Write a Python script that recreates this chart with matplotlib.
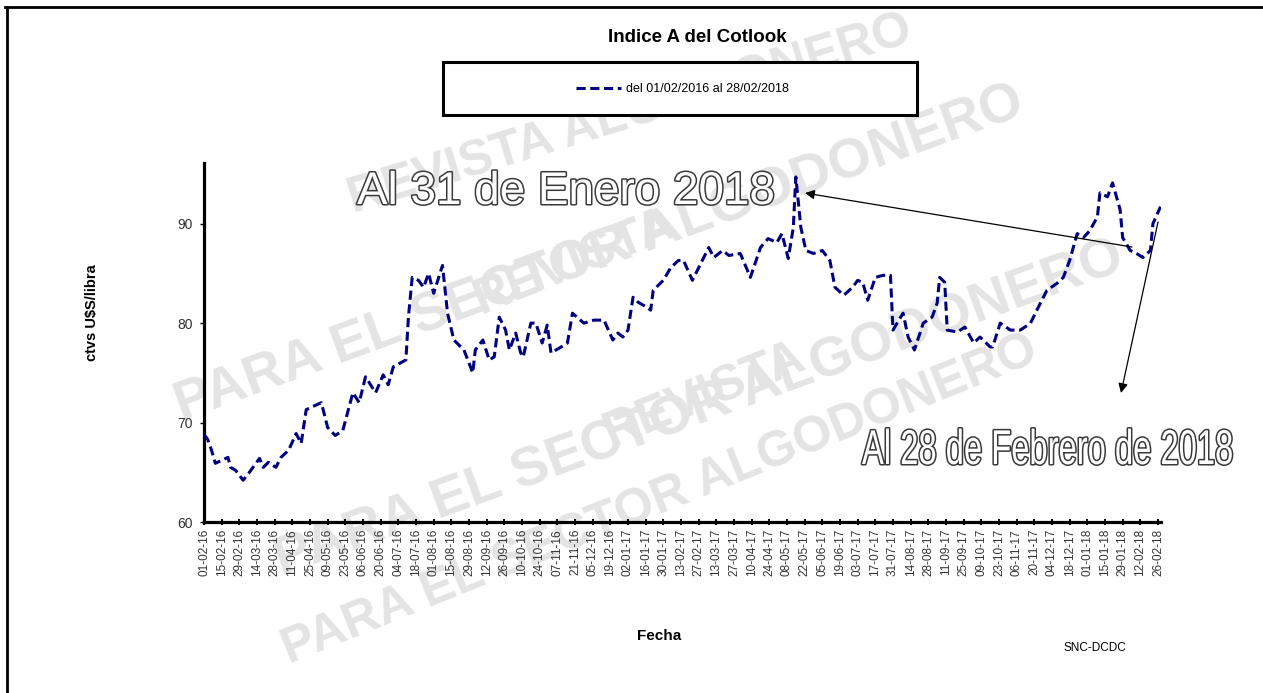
import matplotlib
matplotlib.use('Agg')
import matplotlib.pyplot as plt
import matplotlib.dates as mdates
import matplotlib.patheffects as pe
from matplotlib.patches import Rectangle
from matplotlib.lines import Line2D
from matplotlib.transforms import Affine2D
import pandas as pd

# Indice A del Cotlook (ctvs U$S/libra)
fecha = ['2016-02-01', '2016-02-04', '2016-02-07', '2016-02-10', '2016-02-20', '2016-02-22',
         '2016-02-26', '2016-03-03', '2016-03-08', '2016-03-16', '2016-03-19', '2016-03-23',
         '2016-03-29', '2016-04-02', '2016-04-08', '2016-04-14', '2016-04-18', '2016-04-22',
         '2016-04-27', '2016-05-04', '2016-05-09', '2016-05-15', '2016-05-21', '2016-05-26',
         '2016-05-29', '2016-06-03', '2016-06-08', '2016-06-16', '2016-06-22', '2016-06-26',
         '2016-06-30', '2016-07-10', '2016-07-12', '2016-07-15', '2016-07-20', '2016-07-24',
         '2016-07-28', '2016-08-01', '2016-08-08', '2016-08-12', '2016-08-17', '2016-08-25',
         '2016-09-01', '2016-09-03', '2016-09-09', '2016-09-14', '2016-09-18', '2016-09-22',
         '2016-09-27', '2016-09-30', '2016-10-05', '2016-10-09', '2016-10-11', '2016-10-17',
         '2016-10-21', '2016-10-26', '2016-10-30', '2016-11-02', '2016-11-10', '2016-11-15',
         '2016-11-19', '2016-11-28', '2016-12-06', '2016-12-14', '2016-12-21', '2016-12-25',
         '2016-12-29', '2017-01-02', '2017-01-06', '2017-01-10', '2017-01-17', '2017-01-20',
         '2017-01-22', '2017-01-30', '2017-02-05', '2017-02-11', '2017-02-15', '2017-02-22',
         '2017-03-03', '2017-03-07', '2017-03-11', '2017-03-18', '2017-03-23', '2017-04-01',
         '2017-04-09', '2017-04-17', '2017-04-23', '2017-04-30', '2017-05-04', '2017-05-09',
         '2017-05-13', '2017-05-15', '2017-05-19', '2017-05-23', '2017-05-29', '2017-06-05',
         '2017-06-11', '2017-06-15', '2017-06-22', '2017-06-29', '2017-07-03', '2017-07-07',
         '2017-07-11', '2017-07-17', '2017-07-23', '2017-07-29', '2017-07-31', '2017-08-08',
         '2017-08-12', '2017-08-17', '2017-08-24', '2017-08-31', '2017-09-04', '2017-09-06',
         '2017-09-10', '2017-09-12', '2017-09-20', '2017-09-26', '2017-10-03', '2017-10-08',
         '2017-10-16', '2017-10-18', '2017-10-24', '2017-11-01', '2017-11-09', '2017-11-17',
         '2017-11-22', '2017-11-30', '2017-12-08', '2017-12-13', '2017-12-18', '2017-12-24',
         '2017-12-29', '2018-01-03', '2018-01-09', '2018-01-11', '2018-01-17', '2018-01-21',
         '2018-01-27', '2018-01-29', '2018-02-04', '2018-02-09', '2018-02-14', '2018-02-20',
         '2018-02-22', '2018-02-28']
valores = [68.8, 68.3, 67.2, 65.9, 66.5, 65.5,
           65.2, 64.2, 65.0, 66.4, 65.5, 66.0,
           65.5, 66.5, 67.2, 68.9, 67.9, 71.3,
           71.6, 72.0, 69.5, 68.7, 69.2, 71.6,
           73.0, 72.0, 74.6, 73.0, 74.8, 73.8,
           75.6, 76.3, 80.6, 84.6, 84.3, 83.6,
           85.0, 83.0, 85.8, 81.0, 78.3, 77.3,
           75.0, 77.3, 78.3, 76.3, 76.6, 80.6,
           79.3, 77.3, 79.0, 77.0, 76.6, 80.0,
           80.0, 78.0, 79.8, 77.0, 77.6, 78.0,
           81.0, 80.0, 80.3, 80.3, 78.3, 79.0,
           78.6, 79.3, 82.6, 82.1, 81.6, 81.3,
           83.3, 84.3, 85.6, 86.3, 86.3, 84.3,
           86.6, 87.6, 86.6, 87.3, 86.8, 87.0,
           84.6, 87.6, 88.5, 88.1, 89.0, 86.5,
           89.6, 94.7, 89.6, 87.3, 87.0, 87.3,
           86.3, 83.6, 82.8, 83.6, 84.3, 84.1,
           82.3, 84.6, 84.8, 84.8, 79.3, 81.0,
           78.6, 77.3, 80.0, 80.6, 82.0, 84.6,
           84.1, 79.3, 79.1, 79.6, 78.0, 78.6,
           77.6, 77.6, 80.0, 79.3, 79.3, 80.0,
           81.3, 83.3, 84.0, 84.6, 86.3, 89.0,
           88.6, 89.3, 90.7, 93.1, 92.7, 94.1,
           91.4, 88.6, 87.3, 87.0, 86.6, 87.3,
           90.0, 91.7]

serie_label = 'del 01/02/2016 al 28/02/2018'
y_ticks = [60, 70, 80, 90]
x_ticks = pd.date_range('2016-02-01', '2018-02-26', freq='14D')

marcas_agua = [
    ('REVISTA ALGODONERO', 630, 115, 17, 36),
    ('PARA EL SECTOR ALGODONERO', 600, 255, 20, 40),
    ('REVISTA', 575, 262, 22, 36),
    ('PARA EL SECTOR ALGODONERO', 700, 410, 20, 40),
    ('REVISTA', 705, 395, 22, 36),
    ('PARA EL SECTOR ALGODONERO', 660, 500, 22, 36),
]

W, H = 1263, 693
plt.rcParams['font.family'] = ['Liberation Sans', 'DejaVu Sans']


class Alto(pe.AbstractPathEffect):
    """estira el texto en vertical sobre la linea base (aspecto de letra estrecha)"""

    def __init__(self, sy, efectos):
        super().__init__()
        self.sy = sy
        self.efectos = efectos

    def draw_path(self, renderer, gc, tpath, affine, rgbFace=None):
        y0 = affine.get_matrix()[1, 2]
        aff = affine + Affine2D().translate(0, -y0).scale(1, self.sy).translate(0, y0)
        for e in self.efectos:
            e.draw_path(renderer, gc, tpath, aff, rgbFace)


fig = plt.figure(figsize=(W / 100, H / 100), dpi=100)
fig.patch.set_facecolor('white')


def fx(px):
    return px / W


def fy(py):
    return 1 - py / H


# marco exterior
fig.add_artist(Line2D([fx(5), fx(1263)], [fy(7), fy(7)], color='black', lw=2, transform=fig.transFigure))
fig.add_artist(Line2D([fx(7), fx(7)], [fy(7), fy(693)], color='black', lw=2, transform=fig.transFigure))

# marca de agua
for txt, cx, cy, rot, fs in marcas_agua:
    fig.text(fx(cx), fy(cy), txt, ha='center', va='center', rotation=rot, fontsize=fs,
             fontweight='bold', color='#e4e4e4', zorder=-5)

# cuadro de leyenda (debajo de los ejes, encima de la marca de agua)
fig.add_artist(Rectangle((fx(443), fy(115)), (917 - 443) / W, 53 / H, transform=fig.transFigure,
                         fc='white', ec='black', lw=2.2, zorder=-1))

ax = fig.add_axes([fx(204), fy(522), (1160.5 - 204) / W, (522 - 163) / H])
ax.patch.set_alpha(0)

x = pd.to_datetime(fecha)
linea, = ax.plot(x, valores, color='#000080', lw=2.2, linestyle=(0, (3.0, 1.5)), zorder=3)

ax.set_xlim(pd.Timestamp('2016-02-01'), pd.Timestamp('2018-02-28'))
ax.set_ylim(60, 96.1)
ax.set_yticks(y_ticks)
ax.set_xticks(x_ticks)
ax.xaxis.set_major_formatter(mdates.DateFormatter('%d-%m-%y'))

for s in ['top', 'right']:
    ax.spines[s].set_visible(False)
for s in ['left', 'bottom']:
    ax.spines[s].set_linewidth(2.3)

ax.tick_params(axis='y', direction='out', length=3, width=1, labelsize=10, pad=5, labelcolor='#333333')
ax.tick_params(axis='x', direction='inout', length=4, width=1.5, labelsize=8.5, pad=3,
               labelrotation=90, labelcolor='#333333')

ax.set_ylabel('ctvs U$S/libra', fontsize=10.5, fontweight='bold')
ax.yaxis.set_label_coords(-0.11, 0.582)
ax.set_xlabel('Fecha', fontsize=11, fontweight='bold')
ax.xaxis.set_label_coords(0.476, -0.298)

fig.text(fx(697), fy(37), 'Indice A del Cotlook', ha='center', va='center',
         fontsize=13.5, fontweight='bold')
fig.text(fx(1095), fy(648), 'SNC-DCDC', ha='center', va='center', fontsize=8.5)

ax.legend([linea], [serie_label], loc='center', bbox_to_anchor=(fx(682), fy(89)),
          bbox_transform=fig.transFigure, frameon=False, fontsize=9,
          handlelength=3.6, handletextpad=0.4)

# anotaciones
contorno = [pe.withStroke(linewidth=2.2, foreground='#3a3a3a')]
fig.text(fx(357), fy(204), 'Al 31 de Enero 2018', ha='left', va='baseline', fontsize=33,
         color='white', path_effects=contorno, zorder=4)

t2 = fig.text(fx(862), fy(464), 'Al 28 de Febrero de 2018', ha='left', va='baseline',
              fontsize=24, color='white', zorder=4)
fig.canvas.draw()
fs2 = 24 * 371 / t2.get_window_extent().width
t2.set_fontsize(fs2)
t2.set_path_effects([Alto(35.2 / fs2, contorno)])

flecha = dict(arrowstyle='-|>', color='black', lw=0.9, mutation_scale=14, shrinkA=0, shrinkB=0)
ax.annotate('', xy=(805, H - 193), xycoords='figure pixels',
            xytext=(1132, H - 247), textcoords='figure pixels', arrowprops=flecha)
ax.annotate('', xy=(1121, H - 393), xycoords='figure pixels',
            xytext=(1158, H - 222), textcoords='figure pixels', arrowprops=flecha)

fig.savefig('out.png', dpi=100, facecolor='white')
plt.close(fig)
